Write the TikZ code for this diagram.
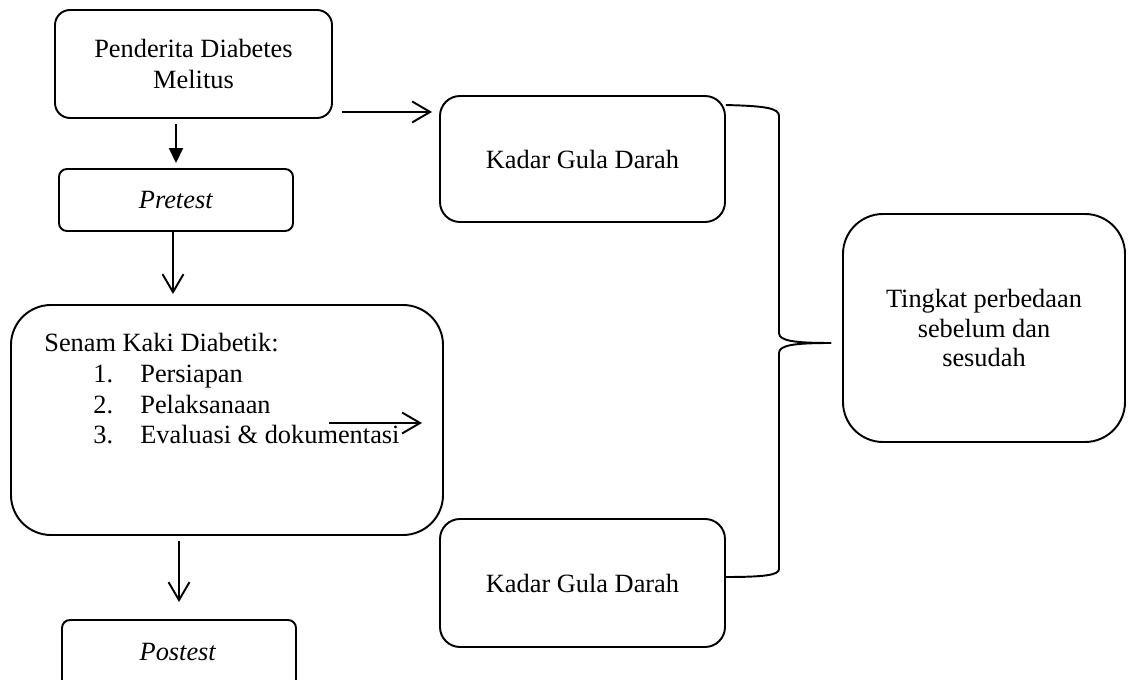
\documentclass[tikz,border=0pt]{standalone}
\usepackage{fontspec}
\setmainfont{Liberation Serif}
\usepackage{tikz}
\usetikzlibrary{arrows.meta}

\begin{document}
\begin{tikzpicture}[font=\fontsize{15}{17.4}\selectfont,
    box/.style={draw, line width=1.1pt, inner sep=0pt, align=center},
    arr/.style={line width=1.1pt, -{Straight Barb[length=0.36cm,width=0.42cm,line width=1.1pt]}}]

    \useasboundingbox (0,0) rectangle (22.56,-13.6);

    % Left column
    \node[box, rounded corners=0.3cm, minimum width=5.54cm, minimum height=2.16cm] (diab) at (3.87,-1.28) {Penderita Diabetes\\Melitus};
    \node[box, rounded corners=0.16cm, minimum width=4.68cm, minimum height=1.24cm] (pre) at (3.52,-4.0) {\textit{Pretest}};
    \node[box, rounded corners=0.8cm, minimum width=8.64cm, minimum height=4.6cm] (senam) at (4.54,-8.4) {};
    \node[box, rounded corners=0.16cm, minimum width=4.68cm, minimum height=1.44cm] (post) at (3.58,-13.12) {};
    \node[inner sep=0pt] (posttxt) at (3.56,-13.04) {\textit{Postest}};

    % Senam text
    \node[anchor=base west, inner sep=0pt] (senamtxt) at (0.88,-7.04) {\begin{tabular}[t]{@{}l@{}}
        Senam Kaki Diabetik:\\
        \hspace*{0.98cm}\makebox[0.94cm][l]{1.}Persiapan\\
        \hspace*{0.98cm}\makebox[0.94cm][l]{2.}Pelaksanaan\\
        \hspace*{0.98cm}\makebox[0.94cm][l]{3.}Evaluasi \& dokumentasi
    \end{tabular}};

    % Right column
    \node[box, rounded corners=0.4cm, minimum width=5.7cm, minimum height=2.52cm] (kgd1) at (11.65,-3.18) {Kadar Gula Darah};
    \node[box, rounded corners=0.4cm, minimum width=5.7cm, minimum height=2.56cm] (kgd2) at (11.65,-11.66) {Kadar Gula Darah};
    \node[box, rounded corners=0.8cm, minimum width=5.64cm, minimum height=4.56cm, font=\fontsize{15}{16.8}\selectfont] (tingkat) at (19.68,-6.56) {Tingkat perbedaan\\sebelum dan\\sesudah};

    % Arrows
    \draw[line width=1.1pt, -{Triangle[length=0.3cm,width=0.28cm]}] ([yshift=-0.1cm]pre.north |- diab.south) -- ([yshift=0.1cm]pre.north);
    \draw[arr] ([xshift=-0.06cm]pre.south) -- ([xshift=-0.06cm,yshift=0.2cm]pre.south |- senam.north);
    \draw[arr] ([yshift=-0.1cm]post.north |- senam.south) -- ([yshift=0.34cm]post.north);
    \draw[arr] ([xshift=0.18cm,yshift=0.14cm]diab.south east) -- ([xshift=-0.14cm,yshift=0.14cm]kgd1.west |- diab.south east);

    \coordinate (inA) at ([xshift=-2.3cm,yshift=-0.06cm]senam.east);
    \coordinate (inB) at ([xshift=-0.44cm,yshift=-0.06cm]senam.east);
    \draw[arr] (inA) -- (inB);

    % Brace
    \coordinate (brtop) at ([yshift=-0.2cm]kgd1.north east);
    \coordinate (brbot) at ([yshift=0.12cm]kgd2.east);
    \coordinate (brtip) at ([xshift=-0.22cm,yshift=-0.3cm]tingkat.west);
    \draw[line width=1.1pt] (brtop) .. controls (15.3,-2.12) and (15.58,-2.16) .. (15.58,-2.32) -- (15.58,-6.66)
        .. controls (15.58,-6.82) and (15.9,-6.86) .. (brtip);
    \draw[line width=1.1pt] (brtip) .. controls (15.9,-6.86) and (15.58,-6.9) .. (15.58,-7.06) -- (15.58,-11.38)
        .. controls (15.58,-11.5) and (15.3,-11.54) .. (brbot);

\end{tikzpicture}
\end{document}
